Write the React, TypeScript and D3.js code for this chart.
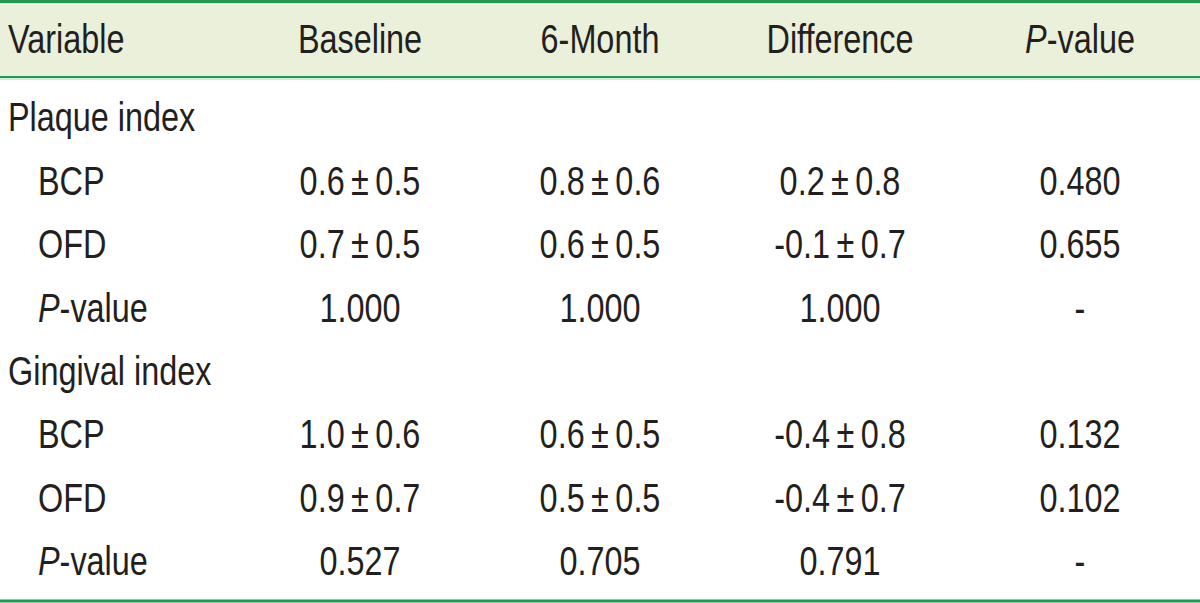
import * as d3 from 'd3';
import React from 'react';

const columns = ['Variable', 'Baseline', '6-Month', 'Difference', 'P-value'];
const rowLabels = ['Plaque index', 'BCP', 'OFD', 'P-value', 'Gingival index', 'BCP', 'OFD', 'P-value'];
const rowIsGroup = [true, false, false, false, true, false, false, false];
const baseline = ['', '0.6±0.5', '0.7±0.5', '1.000', '', '1.0±0.6', '0.9±0.7', '0.527'];
const sixMonth = ['', '0.8±0.6', '0.6±0.5', '1.000', '', '0.6±0.5', '0.5±0.5', '0.705'];
const difference = ['', '0.2±0.8', '-0.1±0.7', '1.000', '', '-0.4±0.8', '-0.4±0.7', '0.791'];
const pValues = ['', '0.480', '0.655', '-', '', '0.132', '0.102', '-'];

const width = 1200;
const height = 603;
const green = '#1f9a4f';
const headerFill = '#eaf0da';
const textColor = '#231f20';
const font = "'Liberation Sans', Arial, sans-serif";
const fontSize = 40;
const squeeze = 0.81; // the original uses a condensed face

// renders "P-value" with italic P, and spaces the ± sign a little
const Label = ({ text }: { text: string }) => {
  if (text.startsWith('P-')) {
    return (
      <>
        <tspan fontStyle="italic">P</tspan>
        <tspan>{text.slice(1)}</tspan>
      </>
    );
  }
  if (text.includes('±')) {
    const [a, b] = text.split('±');
    return <tspan>{`${a}\u2009±\u2009${b}`}</tspan>;
  }
  return <tspan>{text}</tspan>;
};

const Cell = ({ x, y, text, anchor = 'middle' }: { x: number; y: number; text: string; anchor?: string }) => (
  <text
    transform={`translate(${x},${y}) scale(${squeeze},1)`}
    textAnchor={anchor}
    dominantBaseline="central"
  >
    <Label text={text} />
  </text>
);

export default function App() {
  const x = d3.scalePoint<string>().domain(columns.slice(1)).range([360, 1080]);
  const y = d3.scalePoint<number>().domain(d3.range(rowLabels.length)).range([117, 561]);
  const cols = [baseline, sixMonth, difference, pValues];

  return (
    <div style={{ position: 'absolute', left: 0, top: 0 }}>
      <svg width={width} height={height} style={{ display: 'block' }} fontFamily={font} fontSize={fontSize} fill={textColor}>
        <rect x={0} y={0} width={width} height={height} fill="#ffffff" />
        <rect x={0} y={2} width={width} height={75} fill={headerFill} />
        <line x1={0} x2={width} y1={1.5} y2={1.5} stroke={green} strokeWidth={3} />
        <line x1={0} x2={width} y1={77} y2={77} stroke={green} strokeWidth={2} />
        <line x1={0} x2={width} y1={79} y2={79} stroke="#9fd8b4" strokeWidth={1} />
        <line x1={0} x2={width} y1={601} y2={601} stroke={green} strokeWidth={3} />

        <g>
          <Cell x={8} y={39} text={columns[0]} anchor="start" />
          {columns.slice(1).map((c) => (
            <Cell key={c} x={x(c)!} y={39} text={c} />
          ))}
        </g>

        {rowLabels.map((r, i) => (
          <g key={i}>
            <Cell x={rowIsGroup[i] ? 8 : 38} y={y(i)!} text={r} anchor="start" />
            {cols.map((col, j) => (
              col[i] ? <Cell key={j} x={x(columns[j + 1])!} y={y(i)!} text={col[i]} /> : null
            ))}
          </g>
        ))}
      </svg>
    </div>
  );
}
